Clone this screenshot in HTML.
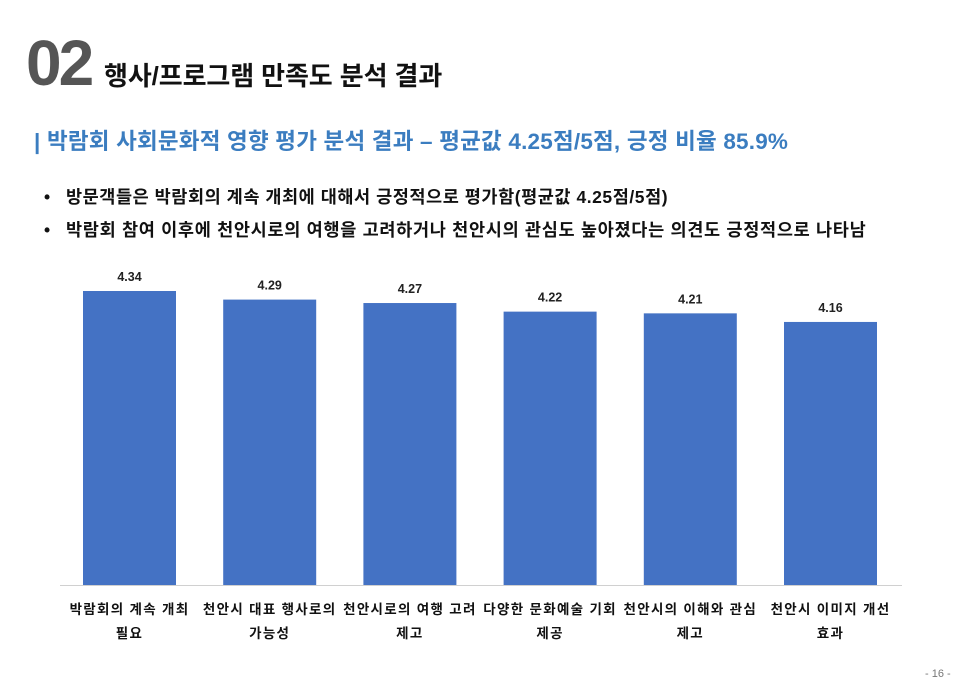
<!DOCTYPE html>
<html><head><meta charset="utf-8">
<style>
body{margin:0;width:960px;height:695px;background:#fff;position:relative;overflow:hidden;font-family:"Liberation Sans","Noto Sans CJK KR",sans-serif;}
.a{position:absolute;white-space:nowrap;}
.b{display:inline-block;width:22px;}
</style></head><body>
<div class="a" style="left:26px;top:28px;font-size:64px;font-weight:bold;color:#555;letter-spacing:-3px;line-height:70px;">02</div>
<div class="a" style="left:104px;top:58px;font-size:26px;font-weight:bold;color:#111;line-height:36px;letter-spacing:-0.1px;">행사/프로그램 만족도 분석 결과</div>
<div class="a" style="left:34px;top:127px;font-size:22.5px;font-weight:bold;color:#3b7dc0;line-height:30px;letter-spacing:0.2px;">| 박람회 사회문화적 영향 평가 분석 결과 – 평균값 4.25점/5점, 긍정 비율 85.9%</div>
<div class="a" style="left:44px;top:184px;font-size:17.5px;font-weight:bold;color:#111;line-height:26px;letter-spacing:0.55px;"><span class="b">•</span>방문객들은 박람회의 계속 개최에 대해서 긍정적으로 평가함(평균값 4.25점/5점)</div>
<div class="a" style="left:44px;top:217px;font-size:17.5px;font-weight:bold;color:#111;line-height:26px;letter-spacing:0.7px;"><span class="b">•</span>박람회 참여 이후에 천안시로의 여행을 고려하거나 천안시의 관심도 높아졌다는 의견도 긍정적으로 나타남</div>
<svg class="a" style="left:0;top:0" width="960" height="695">
<g id="bars"></g>
<line x1="60" y1="585.5" x2="902" y2="585.5" stroke="#d0d0d0" stroke-width="1"/>
</svg>
<div class="a" style="left:925px;top:668px;font-size:11px;color:#777;">- 16 -</div>
<script>
const categories=[["박람회의 계속 개최","필요"],["천안시 대표 행사로의","가능성"],["천안시로의 여행 고려","제고"],["다양한 문화예술 기회","제공"],["천안시의 이해와 관심","제고"],["천안시 이미지 개선","효과"]];
const values=[4.34,4.29,4.27,4.22,4.21,4.16];
const valueLabels=["4.34","4.29","4.27","4.22","4.21","4.16"];
const yMin=2.63,yMax=4.34,base=585,top0=291;
function y(v){return base-(v-yMin)/(yMax-yMin)*(base-top0);}
function xc(i){return 129.5+i*140.2;}
const g=document.getElementById('bars');
const ns='http://www.w3.org/2000/svg';
values.forEach((v,i)=>{
 const r=document.createElementNS(ns,'rect');
 
 
 r.setAttribute('x',xc(i)-46.5);r.setAttribute('width',93);
 r.setAttribute('y',y(v));r.setAttribute('height',base-y(v));
 r.setAttribute('fill','#4472c4');g.appendChild(r);
 const t=document.createElementNS(ns,'text');
 
 
 t.setAttribute('x',xc(i));t.setAttribute('y',y(v)-10);
 t.setAttribute('text-anchor','middle');t.setAttribute('font-size','12.5');t.setAttribute('font-weight','bold');t.setAttribute('fill','#222');
 t.textContent=valueLabels[i];g.appendChild(t);
 categories[i].forEach((s,k)=>{
  const c=document.createElementNS(ns,'text');
  
  
  c.setAttribute('x',xc(i));c.setAttribute('y',614+k*24);
  c.setAttribute('text-anchor','middle');c.setAttribute('font-size','13.5');c.setAttribute('font-weight','bold');c.setAttribute('fill','#111');
  c.setAttribute('letter-spacing','1.3');
  c.setAttribute('font-family','"Liberation Sans","Noto Sans CJK KR",sans-serif');
  c.textContent=s;g.appendChild(c);
 });
});
</script>
</body></html>
